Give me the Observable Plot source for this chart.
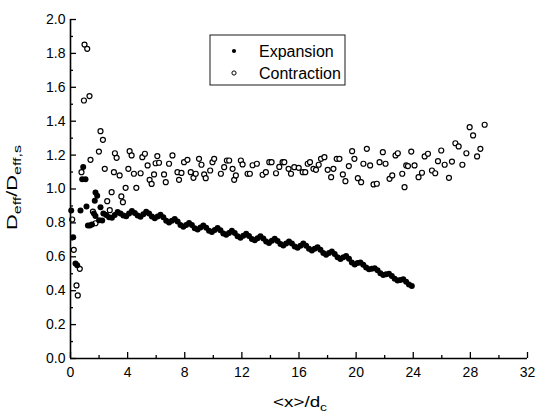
<!DOCTYPE html>
<html><head><meta charset="utf-8">
<script src="https://cdn.jsdelivr.net/npm/d3@7"></script>
<script src="https://cdn.jsdelivr.net/npm/@observablehq/plot@0.6"></script>
<style>body{margin:0;background:#fff;}</style>
</head><body><div id="chart"></div>
<script>
const seriesNames = ["Expansion", "Contraction"];
const xTicks = [0, 4, 8, 12, 16, 20, 24, 28, 32];
const xMinorTicks = [2, 6, 10, 14, 18, 22, 26, 30];
const yTicks = [0, 0.2, 0.4, 0.6, 0.8, 1.0, 1.2, 1.4, 1.6, 1.8, 2.0];
const yMinorTicks = [0.1, 0.3, 0.5, 0.7, 0.9, 1.1, 1.3, 1.5, 1.7, 1.9];

const expansionX = [0.05,0.19,0.35,0.47,0.7,0.82,0.89,1.05,1.12,1.22,1.36,1.5,1.64,1.7,1.75,1.75,1.87,2.0,2.1,2.22,
2.3,2.5,2.7,2.9,3.1,3.3,3.5,3.7,3.9,4.1,4.3,4.5,4.7,4.9,5.1,5.3,5.5,5.7,5.9,6.1,6.3,6.5,6.7,6.9,7.1,7.3,7.5,7.7,7.9,8.1,8.3,8.5,8.7,8.9,9.1,9.3,9.5,9.7,9.9,10.1,10.3,10.5,10.7,10.9,11.1,11.3,11.5,11.7,11.9,12.1,12.3,12.5,12.7,12.9,13.1,13.3,13.5,13.7,13.9,14.1,14.3,14.5,14.7,14.9,15.1,15.3,15.5,15.7,15.9,16.1,16.3,16.5,16.7,16.9,17.1,17.3,17.5,17.7,17.9,18.1,18.3,18.5,18.7,18.9,19.1,19.3,19.5,19.7,19.9,20.1,20.3,20.5,20.7,20.9,21.1,21.3,21.5,21.7,21.9,22.1,22.3,22.5,22.7,22.9,23.1,23.3,23.5,23.7,23.9];
const expansionY = [0.873,0.716,0.56,0.55,0.873,1.058,1.13,1.058,0.897,0.785,0.785,0.79,0.855,0.93,0.98,0.84,0.96,0.815,0.893,0.814,
0.855,0.847,0.834,0.83,0.847,0.864,0.856,0.843,0.839,0.855,
0.87,0.859,0.843,0.837,0.851,0.866,0.855,0.838,0.828,0.838,
0.848,0.833,0.813,0.803,0.813,0.823,0.808,0.788,0.778,0.788,
0.80,0.787,0.769,0.761,0.773,0.785,0.772,0.754,0.746,0.758,
0.77,0.757,0.738,0.73,0.741,0.753,0.74,0.721,0.713,0.724,
0.736,0.723,0.705,0.697,0.709,0.721,0.708,0.69,0.682,0.694,
0.706,0.693,0.675,0.667,0.679,0.691,0.679,0.661,0.653,0.665,
0.678,0.665,0.647,0.637,0.647,0.657,0.642,0.622,0.612,0.622,
0.632,0.617,0.597,0.587,0.597,0.605,0.589,0.567,0.555,0.564,
0.567,0.553,0.537,0.527,0.53,0.533,0.52,0.503,0.493,0.497,
0.50,0.486,0.47,0.46,0.463,0.467,0.453,0.436,0.428];

const contractionX = [0.12,0.23,0.42,0.51,0.65,0.77,0.94,0.98,1.17,1.33,1.4,1.57,1.75,1.99,2.1,2.27,2.4,2.57,2.75,2.88,3.04,3.11,3.23,3.44,3.56,3.67,3.86,4.05,4.14,4.28,4.44,4.61,4.91,5.03,5.21,5.4,5.54,5.68,5.85,5.96,
6.08,6.2,6.55,6.67,6.9,7.14,7.49,7.6,7.77,7.95,8.19,8.42,8.61,8.77,9.0,9.17,9.36,9.47,9.78,9.94,10.06,10.53,10.76,10.95,11.11,11.35,11.46,11.58,11.93,12.05,12.4,12.56,12.75,13.05,13.45,13.68,13.92,14.08,
14.39,14.62,14.85,14.97,15.27,15.44,15.67,15.98,16.26,16.44,16.61,16.77,17.01,17.19,17.38,17.54,17.78,18.01,18.25,18.41,18.64,18.83,19.07,19.25,19.49,19.72,19.88,20.12,20.35,20.51,20.75,20.98,21.22,21.45,21.64,21.87,22.06,22.34,22.53,22.76,22.92,23.23,23.39,23.51,
23.63,23.86,24.09,24.37,24.61,24.8,25.03,25.31,25.54,25.73,25.96,26.2,26.5,26.71,26.95,27.18,27.44,27.72,27.95,28.19,28.47,28.7,29.0];
const contractionY = [0.82,0.641,0.431,0.372,0.529,1.099,1.522,1.852,1.827,1.548,1.172,0.867,0.798,1.221,1.341,1.29,1.119,0.928,0.875,0.981,1.099,1.211,1.184,1.08,0.956,0.922,1.007,1.119,1.223,1.198,1.09,1.007,1.093,1.188,1.208,1.139,1.054,1.03,1.086,1.152,
1.194,1.155,1.086,1.04,1.149,1.198,1.099,1.054,1.095,1.158,1.172,1.099,1.066,1.09,1.178,1.143,1.086,1.064,1.109,1.158,1.178,1.09,1.129,1.168,1.168,1.119,1.054,1.08,1.168,1.145,1.09,1.09,1.14,1.149,1.084,1.099,1.158,1.158,
1.093,1.13,1.158,1.158,1.119,1.09,1.129,1.125,1.099,1.099,1.149,1.158,1.119,1.113,1.143,1.178,1.188,1.113,1.07,1.119,1.178,1.178,1.086,1.046,1.135,1.223,1.178,1.064,1.04,1.149,1.237,1.139,1.027,1.031,1.158,1.217,1.149,1.06,1.08,1.198,1.211,1.09,1.011,1.139,
1.135,1.221,1.139,1.07,1.096,1.192,1.208,1.109,1.093,1.164,1.227,1.143,1.066,1.162,1.27,1.251,1.143,1.211,1.365,1.316,1.192,1.237,1.379];

const expansion = expansionX.map((x, i) => ({x, y: expansionY[i]}));
const contraction = contractionX.map((x, i) => ({x, y: contractionY[i]}));

const font = "Liberation Sans, Arial, Helvetica, sans-serif";
const W = 537, H = 412, mL = 70, mR = 10, mT = 19, mB = 54;
const frameW = W - mL - mR, frameH = H - mT - mB;

const chart = Plot.plot({
  width: W, height: H,
  marginLeft: mL, marginRight: mR, marginTop: mT, marginBottom: mB,
  style: {fontFamily: font, fontSize: "14px", color: "#000", background: "#fff"},
  x: {domain: [0, 32]},
  y: {domain: [0, 2]},
  marks: [
    Plot.dot(contraction, {x: "x", y: "y", r: 2.5, stroke: "#000", strokeWidth: 1.2, fill: "#fff"}),
    Plot.dot(expansion, {x: "x", y: "y", r: 3, fill: "#000", stroke: null}),
    Plot.ruleX([xTicks[0]], {stroke: "#000", strokeWidth: 1.6}),
    Plot.ruleY([yTicks[0]], {stroke: "#000", strokeWidth: 1.6}),
    // inward ticks (tick marks shortened by insets to a few pixels)
    Plot.tickX(xMinorTicks, {x: d => d, insetTop: frameH - 3, stroke: "#000", strokeWidth: 1.3}),
    Plot.tickX(xTicks, {x: d => d, insetTop: frameH - 6, stroke: "#000", strokeWidth: 1.3}),
    Plot.tickY(yMinorTicks, {y: d => d, insetRight: frameW - 3, stroke: "#000", strokeWidth: 1.3}),
    Plot.tickY(yTicks, {y: d => d, insetRight: frameW - 6, stroke: "#000", strokeWidth: 1.3}),
    Plot.axisX(xTicks, {tickSize: 0, tickPadding: 9, tickFormat: d => String(d), label: null, fontSize: 14, fontFamily: font}),
    Plot.axisY(yTicks, {tickSize: 0, tickPadding: 5, tickFormat: d3.format(".1f"), label: null, fontSize: 14, fontFamily: font})
  ]
});

const svg = d3.select(chart).style("font-family", font);
// y title
const yt = svg.append("text")
  .attr("transform", "translate(17,230) rotate(-90)")
  .attr("text-anchor", "start")
  .attr("font-family", font).attr("font-size", 15).attr("fill", "#000")
  .attr("textLength", 85).attr("lengthAdjust", "spacingAndGlyphs");
yt.append("tspan").text("D");
yt.append("tspan").attr("font-size", 11).attr("dy", 4).text("eff");
yt.append("tspan").attr("dy", -4).text("/D");
yt.append("tspan").attr("font-size", 11).attr("dy", 4).text("eff,s");
// x title
const xt = svg.append("text")
  .attr("x", 273).attr("y", 407)
  .attr("text-anchor", "start")
  .attr("font-family", font).attr("font-size", 15).attr("fill", "#000")
  .attr("textLength", 54).attr("lengthAdjust", "spacingAndGlyphs");
xt.append("tspan").text("<x>/d");
xt.append("tspan").attr("font-size", 11).attr("dy", 4).text("c");
// legend
const lg = svg.append("g").attr("text-anchor", "start");
lg.append("rect").attr("x", 210).attr("y", 35).attr("width", 135).attr("height", 50)
  .attr("fill", "#fff").attr("stroke", "#000").attr("stroke-width", 0.9);
lg.append("circle").attr("cx", 234).attr("cy", 51).attr("r", 2.1).attr("fill", "#000");
lg.append("circle").attr("cx", 234).attr("cy", 73).attr("r", 2.1).attr("fill", "#fff").attr("stroke", "#000").attr("stroke-width", 1);
lg.append("text").attr("x", 259).attr("y", 57).attr("font-family", font).attr("font-size", 16).attr("fill", "#000").text(seriesNames[0]);
lg.append("text").attr("x", 259).attr("y", 78.5).attr("font-family", font).attr("font-size", 16).attr("fill", "#000").text(seriesNames[1]);

document.getElementById("chart").appendChild(chart);
</script>
</body></html>
